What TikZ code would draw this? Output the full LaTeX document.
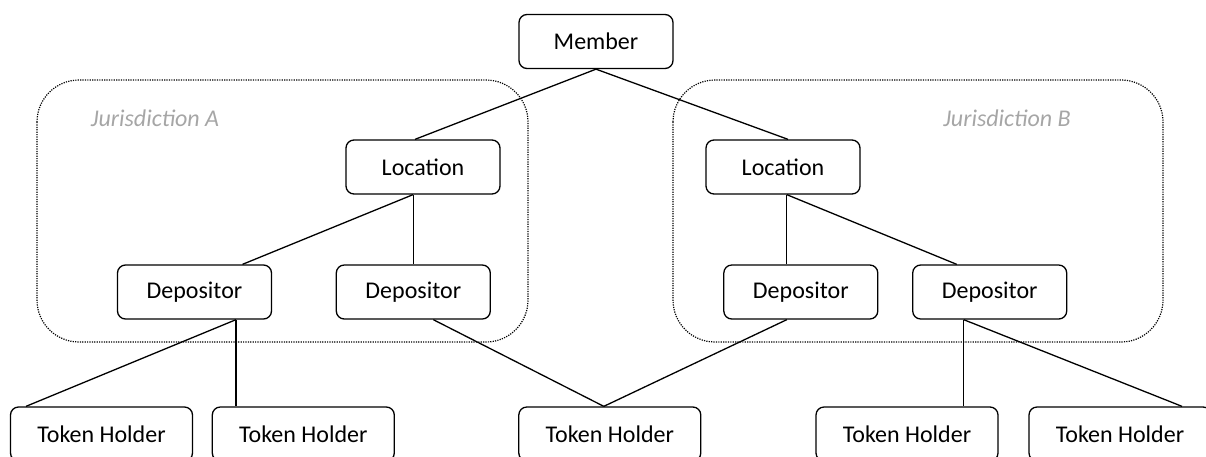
\documentclass[tikz,border=0pt]{standalone}
\usepackage{fontspec}
\setmainfont{Carlito}
\usepackage{tikz}
\usetikzlibrary{positioning}
\definecolor{zonegray}{RGB}{166,166,166}

\begin{document}
\begin{tikzpicture}[x=1pt,y=-1pt,
    box/.style={draw,line width=1.3pt,rounded corners=8pt,minimum width=154pt,minimum height=54pt,inner sep=0pt,font=\fontsize{24}{28}\selectfont},
    holder/.style={box,minimum width=182pt},
    zone/.style={line width=1.2pt,dash pattern=on 1.2pt off 1.2pt,rounded corners=42pt},
    zonelabel/.style={font=\fontsize{24}{28}\selectfont\itshape,text=zonegray},
    link/.style={line width=1.3pt}]
    \clip (0,0) rectangle (1206,456);

    % Jurisdictions
    \draw[zone] (37,80) rectangle (528,342);
    \draw[zone] (673,80) rectangle (1163,342);
    \node[zonelabel] (labA) at (155,118) {Jurisdiction A};
    \node[zonelabel] (labB) at (1007,118) {Jurisdiction B};

    % Member and locations
    \node[box] (member) at (596,41.5) {Member};
    \node[box] (locA) at (423,167) {Location};
    \node[box] (locB) at (783,167) {Location};

    % Depositors
    \node[box] (depA1) at (194.5,292) {Depositor};
    \node[box] (depA2) at (413.3,292) {Depositor};
    \node[box] (depB1) at (800.8,292) {Depositor};
    \node[box] (depB2) at (989.7,292) {Depositor};

    % Token holders
    \node[holder] (th1) at (101.5,434) {Token Holder};
    \node[holder] (th2) at (303.3,434) {Token Holder};
    \node[holder] (th3) at (609.8,434) {Token Holder};
    \node[holder] (th4) at (907,434) {Token Holder};
    \node[holder] (th5) at (1120,434) {Token Holder};

    % Links
    \draw[link] (member.south) -- ([xshift=-8pt]locA.north);
    \draw[link] (member.south) -- ([xshift=5pt]locB.north);
    \draw[link] ([xshift=-10pt]locA.south) -- ([xshift=48pt]depA1.north);
    \draw[link] (depA2.north) -- (depA2.north |- locA.south);
    \draw[link] ([xshift=-14pt]depB1.north) -- ([xshift=-14pt]depB1.north |- locB.south);
    \draw[link] ([xshift=-14pt]depB1.north |- locB.south) -- ([xshift=-33pt]depB2.north);
    \draw[link] ([xshift=41.5pt]depA1.south) -- ([xshift=-75.5pt]th1.north);
    \draw[link] ([xshift=41.5pt]depA1.south) -- ([xshift=41.5pt]depA1.south |- th2.north);
    \draw[link] ([xshift=20pt]depA2.south) -- ([xshift=-6pt]th3.north);
    \draw[link] ([xshift=-14pt]depB1.south) -- ([xshift=-6pt]th3.north);
    \draw[link] ([xshift=-26pt]depB2.south) -- ([xshift=-26pt]depB2.south |- th4.north);
    \draw[link] ([xshift=-26pt]depB2.south) -- ([xshift=62pt]th5.north);
\end{tikzpicture}
\end{document}
